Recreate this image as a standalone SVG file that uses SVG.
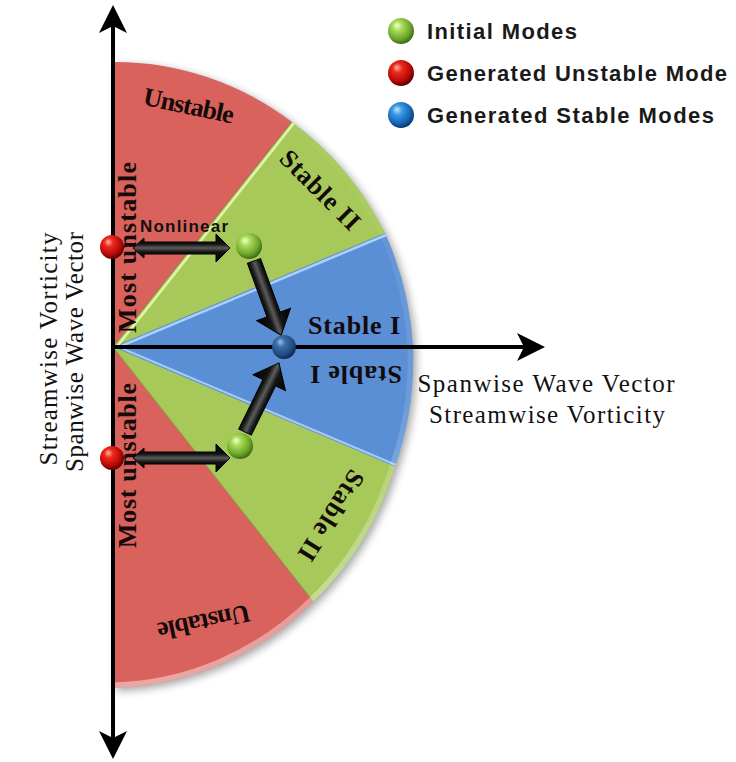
<svg xmlns="http://www.w3.org/2000/svg" width="736" height="762" viewBox="0 0 736 762">
  <defs>
    <style>
      .sector-label { font-family: "Liberation Serif", "Times New Roman", serif; font-weight: bold; font-size: 26px; fill: #140a0a; }
      .axis-label { font-family: "Liberation Serif", "Times New Roman", serif; font-size: 25px; fill: #111; }
      .legend-label { font-family: "Liberation Sans", Arial, sans-serif; font-weight: bold; font-size: 22px; fill: #1a1a1a; }
      .note { font-family: "Liberation Sans", Arial, sans-serif; font-weight: bold; font-size: 17px; fill: #111; }
      .axis { stroke: #000; stroke-width: 4; fill: none; }
      .head { fill: #000; }
      .arrow { fill: url(#arrowShade); stroke: #000; stroke-width: 1; }
    </style>
    <filter id="softShadow" x="-10%" y="-10%" width="130%" height="130%">
      <feGaussianBlur stdDeviation="4"/>
    </filter>
    <linearGradient id="arrowShade" x1="0" y1="0" x2="0" y2="1">
      <stop offset="0" stop-color="#000"/>
      <stop offset="0.36" stop-color="#141414"/>
      <stop offset="0.5" stop-color="#5c5c5c"/>
      <stop offset="0.64" stop-color="#141414"/>
      <stop offset="1" stop-color="#000"/>
    </linearGradient>
    <linearGradient id="rimGlow" gradientUnits="userSpaceOnUse" x1="0" y1="60" x2="0" y2="690">
      <stop offset="0" stop-color="#fff" stop-opacity="0"/>
      <stop offset="0.55" stop-color="#fff" stop-opacity="0.12"/>
      <stop offset="1" stop-color="#fff" stop-opacity="0.45"/>
    </linearGradient>
    <radialGradient id="ballGreen" cx="0.42" cy="0.38" r="0.62" fx="0.34" fy="0.28">
      <stop offset="0" stop-color="#f4ffd6"/>
      <stop offset="0.3" stop-color="#a9dc58"/>
      <stop offset="0.75" stop-color="#6ea62c"/>
      <stop offset="1" stop-color="#3e6b14"/>
    </radialGradient>
    <radialGradient id="ballRed" cx="0.42" cy="0.38" r="0.62" fx="0.34" fy="0.28">
      <stop offset="0" stop-color="#ffb3a6"/>
      <stop offset="0.3" stop-color="#ee2a1c"/>
      <stop offset="0.75" stop-color="#b60a08"/>
      <stop offset="1" stop-color="#5e0000"/>
    </radialGradient>
    <radialGradient id="ballBlue" cx="0.42" cy="0.38" r="0.62" fx="0.34" fy="0.28">
      <stop offset="0" stop-color="#c4e6ff"/>
      <stop offset="0.3" stop-color="#3d9be6"/>
      <stop offset="0.75" stop-color="#1565b6"/>
      <stop offset="1" stop-color="#0a3874"/>
    </radialGradient>
    <radialGradient id="ballBlueDark" cx="0.42" cy="0.38" r="0.62" fx="0.34" fy="0.28">
      <stop offset="0" stop-color="#9cc0e4"/>
      <stop offset="0.3" stop-color="#3b6fa9"/>
      <stop offset="0.78" stop-color="#1f4a7e"/>
      <stop offset="1" stop-color="#0e2a52"/>
    </radialGradient>
    <clipPath id="discClip">
      <path d="M113,347 L113,62 A301,313 0 0 1 291.7,121.7 A301,313 0 0 1 385,233 A301,313 0 0 1 413,347 A301,313 0 0 1 395,466.7 A301,313 0 0 1 313.3,601.7 A301,313 0 0 1 113,688 Z"/>
    </clipPath>
  </defs>

  <rect width="736" height="762" fill="#fff"/>

  <!-- half-disc of stability regions -->
  <g id="regions">
    <path transform="translate(3,3)" fill="#000" opacity="0.35" filter="url(#softShadow)"
          d="M113,347 L113,62 A301,313 0 0 1 291.7,121.7 A301,313 0 0 1 385,233 A301,313 0 0 1 413,347 A301,313 0 0 1 395,466.7 A301,313 0 0 1 313.3,601.7 A301,313 0 0 1 113,688 Z"/>
    <path id="unstable-upper" fill="#d9625d" d="M113,347 L113,62 A301,313 0 0 1 291.7,121.7 Z"/>
    <path id="stable2-upper" fill="#a7c95a" d="M113,347 L291.7,121.7 A301,313 0 0 1 385,233 Z"/>
    <path id="stable1" fill="#5a8fd5" d="M113,347 L385,233 A301,313 0 0 1 413,347 A301,313 0 0 1 395,466.7 Z"/>
    <path id="stable2-lower" fill="#a7c95a" d="M113,347 L395,466.7 A301,313 0 0 1 313.3,601.7 Z"/>
    <path id="unstable-lower" fill="#d9625d" d="M113,347 L313.3,601.7 A301,313 0 0 1 113,688 Z"/>
    <g clip-path="url(#discClip)">
      <!-- bevel highlights along the dividing edges -->
      <line x1="115" y1="349" x2="294" y2="123" stroke="#e2f5a6" stroke-width="2.5"/>
      <line x1="114" y1="349" x2="386" y2="235" stroke="#aad2f8" stroke-width="2.5"/>
      <line x1="114" y1="345" x2="396" y2="465" stroke="#a4cbf3" stroke-width="2"/>
      <line x1="113" y1="347" x2="313.3" y2="601.7" stroke="#7f9a3e" stroke-width="1.2" opacity="0.6"/>
      <line x1="113" y1="347" x2="291.7" y2="121.7" stroke="#8a4a40" stroke-width="1" opacity="0.5"/>
      <!-- lighter rim on the outer edge -->
      <path d="M113,62 A301,313 0 0 1 291.7,121.7 A301,313 0 0 1 385,233 A301,313 0 0 1 413,347 A301,313 0 0 1 395,466.7 A301,313 0 0 1 313.3,601.7 A301,313 0 0 1 113,688"
            fill="none" stroke="url(#rimGlow)" stroke-width="11"/>
    </g>
  </g>

  <!-- region labels -->
  <g id="region-labels">
    <text class="sector-label" text-anchor="middle" textLength="92" lengthAdjust="spacing" transform="translate(187,114) rotate(12)">Unstable</text>
    <text class="sector-label" text-anchor="middle" textLength="102" lengthAdjust="spacing" transform="translate(314,196) rotate(45)">Stable II</text>
    <text class="sector-label" text-anchor="middle" textLength="92" lengthAdjust="spacing" x="354" y="334">Stable I</text>
    <text class="sector-label" text-anchor="middle" textLength="92" lengthAdjust="spacing" transform="translate(356,366) rotate(180)">Stable I</text>
    <text class="sector-label" text-anchor="middle" textLength="102" lengthAdjust="spacing" transform="translate(324,511) rotate(122)">Stable II</text>
    <text class="sector-label" text-anchor="middle" textLength="94" lengthAdjust="spacing" transform="translate(202,614) rotate(168)">Unstable</text>
    <text class="sector-label" text-anchor="middle" textLength="171" lengthAdjust="spacing" transform="translate(136,247.5) rotate(-90)">Most unstable</text>
    <text class="sector-label" text-anchor="middle" textLength="165" lengthAdjust="spacing" transform="translate(136,465.5) rotate(-90)">Most unstable</text>
  </g>

  <!-- coordinate axes -->
  <g id="axes">
    <line class="axis" x1="113" y1="24" x2="113" y2="740"/>
    <path class="head" d="M113,5 L127,33 L113,26 L99,33 Z"/>
    <path class="head" d="M113,759 L127,731 L113,738 L99,731 Z"/>
    <line class="axis" x1="113" y1="347" x2="528" y2="347"/>
    <path class="head" d="M545,347 L517,333 L524,347 L517,361 Z"/>
  </g>

  <!-- mode interaction arrows -->
  <g id="connectors">
    <path class="arrow" d="M133,248 L144,238 L144,242 L216,242 L216,234 L230,248 L216,262 L216,254 L144,254 L144,258 Z"/>
    <path class="arrow" d="M133,458 L144,448 L144,452 L216,452 L216,444 L230,458 L216,472 L216,464 L144,464 L144,468 Z"/>
    <path class="arrow" transform="translate(254,261) rotate(69.9)" d="M0,-7 L57,-7 L57,-18 L79,0 L57,18 L57,7 L0,7 Z"/>
    <path class="arrow" transform="translate(245,432) rotate(-63.8)" d="M0,-7 L55,-7 L55,-18 L77,0 L55,18 L55,7 L0,7 Z"/>
  </g>

  <!-- modes -->
  <g id="mode-red-upper"><circle cx="112" cy="247" r="12" fill="url(#ballRed)"/></g>
  <g id="mode-green-upper"><circle cx="249" cy="246" r="13" fill="url(#ballGreen)"/></g>
  <g id="mode-blue"><circle cx="284" cy="347" r="12" fill="url(#ballBlueDark)"/></g>
  <g id="mode-red-lower"><circle cx="112" cy="458" r="12" fill="url(#ballRed)"/></g>
  <g id="mode-green-lower"><circle cx="240" cy="446" r="13" fill="url(#ballGreen)"/></g>

  <text class="note" x="140" y="232" textLength="88" lengthAdjust="spacing">Nonlinear</text>

  <!-- axis titles -->
  <g id="axis-labels">
    <text class="axis-label" text-anchor="middle" textLength="233" lengthAdjust="spacing" transform="translate(57,349) rotate(-90)">Streamwise Vorticity</text>
    <text class="axis-label" text-anchor="middle" textLength="240" lengthAdjust="spacing" transform="translate(83,352) rotate(-90)">Spanwise Wave Vector</text>
    <text class="axis-label" text-anchor="middle" textLength="257" lengthAdjust="spacing" x="546" y="392">Spanwise Wave Vector</text>
    <text class="axis-label" text-anchor="middle" textLength="236" lengthAdjust="spacing" x="547" y="423">Streamwise Vorticity</text>
  </g>

  <!-- legend -->
  <g id="legend">
    <g id="legend-initial">
      <circle cx="401" cy="31" r="13" fill="url(#ballGreen)"/>
      <text class="legend-label" x="427" y="39" textLength="150" lengthAdjust="spacing">Initial Modes</text>
    </g>
    <g id="legend-unstable">
      <circle cx="401" cy="73" r="13" fill="url(#ballRed)"/>
      <text class="legend-label" x="427" y="81" textLength="300" lengthAdjust="spacing">Generated Unstable Mode</text>
    </g>
    <g id="legend-stable">
      <circle cx="401" cy="115" r="13" fill="url(#ballBlue)"/>
      <text class="legend-label" x="427" y="123" textLength="287" lengthAdjust="spacing">Generated Stable Modes</text>
    </g>
  </g>
</svg>
